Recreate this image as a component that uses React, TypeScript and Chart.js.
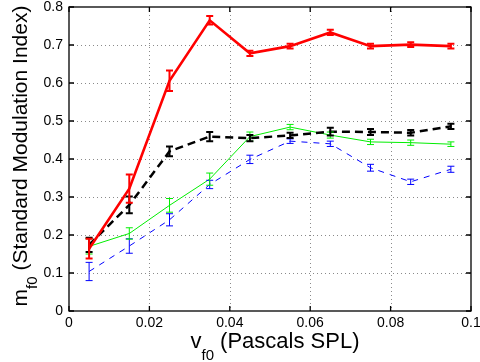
import React, { useEffect, useRef } from "react";
import { Chart, registerables } from "chart.js";

Chart.register(...registerables);

const xValues = [0.005, 0.015, 0.025, 0.035, 0.045, 0.055, 0.065, 0.075, 0.085, 0.095];

const redValues = [0.164, 0.322, 0.606, 0.765, 0.678, 0.697, 0.733, 0.697, 0.701, 0.697];
const redErrors = [0.026, 0.037, 0.027, 0.011, 0.007, 0.006, 0.007, 0.006, 0.006, 0.006];

const blackValues = [0.174, 0.279, 0.42, 0.459, 0.455, 0.462, 0.472, 0.471, 0.469, 0.486];
const blackErrors = [0.019, 0.022, 0.013, 0.012, 0.008, 0.007, 0.01, 0.008, 0.007, 0.007];

const greenValues = [0.17, 0.204, 0.278, 0.347, 0.459, 0.484, 0.463, 0.445, 0.443, 0.439];
const greenErrors = [0.02, 0.015, 0.018, 0.016, 0.012, 0.007, 0.008, 0.007, 0.007, 0.006];

const blueValues = [0.104, 0.171, 0.24, 0.333, 0.399, 0.447, 0.44, 0.377, 0.34, 0.373];
const blueErrors = [0.024, 0.019, 0.016, 0.011, 0.011, 0.006, 0.007, 0.009, 0.007, 0.008];

const xTicks = [0, 0.02, 0.04, 0.06, 0.08, 0.1];
const yTicks = [0, 0.1, 0.2, 0.3, 0.4, 0.5, 0.6, 0.7, 0.8];

const xTitleMain = "v";
const xTitleSub = "f0";
const xTitleRest = " (Pascals SPL)";
const yTitleMain = "m";
const yTitleSub = "f0";
const yTitleRest = " (Standard Modulation Index)";

const FONT = '"Liberation Sans", Arial, Helvetica, sans-serif';

const gridPlugin = {
  id: "dottedGrid",
  beforeDatasetsDraw(chart: any) {
    const ctx = chart.ctx;
    const { left, right, top, bottom } = chart.chartArea;
    const xs = chart.scales.x;
    const ys = chart.scales.y;
    ctx.save();
    ctx.strokeStyle = "#8a8a8a";
    ctx.lineWidth = 1;
    ctx.setLineDash([1, 3]);
    ctx.beginPath();
    xTicks.forEach((v) => {
      const x = Math.round(xs.getPixelForValue(v)) + 0.5;
      if (x - left < 2 || right - x < 2) return;
      ctx.moveTo(x, top);
      ctx.lineTo(x, bottom);
    });
    yTicks.forEach((v) => {
      const y = Math.round(ys.getPixelForValue(v)) + 0.5;
      if (y - top < 2 || bottom - y < 2) return;
      ctx.moveTo(left, y);
      ctx.lineTo(right, y);
    });
    ctx.stroke();
    ctx.restore();
  },
};

const errorBarPlugin = {
  id: "errorBars",
  afterDatasetsDraw(chart: any) {
    const ctx = chart.ctx;
    const xs = chart.scales.x;
    const ys = chart.scales.y;
    const sets = chart.data.datasets.slice();
    sets.sort((a: any, b: any) => (b.order ?? 0) - (a.order ?? 0));
    sets.forEach((d: any) => {
      const errs: number[] = d.errors || [];
      ctx.save();
      ctx.strokeStyle = d.borderColor;
      ctx.lineWidth = d.errorWidth || 1;
      ctx.setLineDash([]);
      const cap = 3.5;
      d.data.forEach((p: any, j: number) => {
        const x = xs.getPixelForValue(p.x);
        const y1 = ys.getPixelForValue(p.y + errs[j]);
        const y2 = ys.getPixelForValue(p.y - errs[j]);
        ctx.beginPath();
        ctx.moveTo(x, y1);
        ctx.lineTo(x, y2);
        ctx.moveTo(x - cap, y1);
        ctx.lineTo(x + cap, y1);
        ctx.moveTo(x - cap, y2);
        ctx.lineTo(x + cap, y2);
        ctx.stroke();
      });
      ctx.restore();
    });
  },
};

const framePlugin = {
  id: "frame",
  afterDraw(chart: any) {
    const ctx = chart.ctx;
    const { left, right, top, bottom } = chart.chartArea;
    const xs = chart.scales.x;
    const ys = chart.scales.y;
    ctx.save();
    ctx.strokeStyle = "#000";
    ctx.lineWidth = 1.3;
    ctx.setLineDash([]);
    ctx.strokeRect(left, top, right - left, bottom - top);
    const tl = 5;
    ctx.beginPath();
    xTicks.forEach((v) => {
      const x = xs.getPixelForValue(v);
      ctx.moveTo(x, bottom);
      ctx.lineTo(x, bottom - tl);
      ctx.moveTo(x, top);
      ctx.lineTo(x, top + tl);
    });
    yTicks.forEach((v) => {
      const y = ys.getPixelForValue(v);
      ctx.moveTo(left, y);
      ctx.lineTo(left + tl, y);
      ctx.moveTo(right, y);
      ctx.lineTo(right - tl, y);
    });
    ctx.stroke();

    ctx.fillStyle = "#000";
    ctx.textBaseline = "alphabetic";
    ctx.textAlign = "left";
    const xMainFont = `22px ${FONT}`;
    const xSubFont = `15px ${FONT}`;
    ctx.font = xMainFont;
    const w1 = ctx.measureText(xTitleMain).width;
    const w3 = ctx.measureText(xTitleRest).width;
    ctx.font = xSubFont;
    const w2 = ctx.measureText(xTitleSub).width;
    const xTotal = w1 + w2 + w3;
    const xCenter = 275;
    const sx = xCenter - xTotal / 2;
    const xBase = 348;
    ctx.font = xMainFont;
    ctx.fillText(xTitleMain, sx, xBase);
    ctx.font = xSubFont;
    ctx.fillText(xTitleSub, sx + w1, xBase + 12);
    ctx.font = xMainFont;
    ctx.fillText(xTitleRest, sx + w1 + w2, xBase);

    const yMainFont = `21px ${FONT}`;
    const ySubFont = `15px ${FONT}`;
    ctx.font = yMainFont;
    const v1 = ctx.measureText(yTitleMain).width;
    const v3 = ctx.measureText(yTitleRest).width;
    ctx.font = ySubFont;
    const v2 = ctx.measureText(yTitleSub).width;
    const yTotal = v1 + v2 + v3;
    const yCenter = 156;
    ctx.translate(27, yCenter + yTotal / 2);
    ctx.rotate(-Math.PI / 2);
    ctx.font = yMainFont;
    ctx.fillText(yTitleMain, 0, 0);
    ctx.font = ySubFont;
    ctx.fillText(yTitleSub, v1, 10);
    ctx.font = yMainFont;
    ctx.fillText(yTitleRest, v1 + v2, 0);
    ctx.restore();
  },
};

const toPoints = (vals: number[]) => vals.map((y, i) => ({ x: xValues[i], y }));

export default function App() {
  const canvasRef = useRef<HTMLCanvasElement | null>(null);

  useEffect(() => {
    document.body.style.margin = "0";
    const canvas = canvasRef.current;
    if (!canvas) return;
    Chart.defaults.font.family = FONT;
    const chart = new Chart(canvas, {
      type: "scatter",
      data: {
        datasets: [
          {
            label: "red",
            data: toPoints(redValues),
            errors: redErrors,
            errorWidth: 2,
            showLine: true,
            borderColor: "#ff0000",
            backgroundColor: "#ff0000",
            borderWidth: 2.6,
            pointRadius: 0,
            order: 0,
          },
          {
            label: "black",
            data: toPoints(blackValues),
            errors: blackErrors,
            errorWidth: 2,
            showLine: true,
            borderColor: "#000000",
            backgroundColor: "#000000",
            borderWidth: 2.5,
            borderDash: [8, 5],
            pointRadius: 0,
            order: 1,
          },
          {
            label: "green",
            data: toPoints(greenValues),
            errors: greenErrors,
            errorWidth: 1,
            showLine: true,
            borderColor: "#00ee00",
            backgroundColor: "#00ee00",
            borderWidth: 1,
            pointRadius: 0,
            order: 2,
          },
          {
            label: "blue",
            data: toPoints(blueValues),
            errors: blueErrors,
            errorWidth: 1,
            showLine: true,
            borderColor: "#0000ff",
            backgroundColor: "#0000ff",
            borderWidth: 1,
            borderDash: [6, 6],
            pointRadius: 0,
            order: 3,
          },
        ] as any,
      },
      options: {
        animation: false,
        responsive: false,
        maintainAspectRatio: false,
        layout: { padding: { left: 0, right: 9, top: 7, bottom: 0 } },
        plugins: {
          legend: { display: false },
          tooltip: { enabled: false },
        },
        scales: {
          x: {
            type: "linear",
            min: 0,
            max: 0.1,
            afterBuildTicks: (scale: any) => {
              scale.ticks = xTicks.map((v) => ({ value: v }));
            },
            afterFit: (scale: any) => {
              scale.height = 51;
              scale.paddingLeft = 0;
              scale.paddingRight = 0;
            },
            ticks: {
              color: "#000",
              font: { size: 14 },
              padding: 4,
              maxRotation: 0,
              autoSkip: false,
              callback: (v: any) => String(parseFloat(Number(v).toFixed(2))),
            },
            grid: { display: false, drawTicks: false },
            border: { display: false },
          },
          y: {
            type: "linear",
            min: 0,
            max: 0.8,
            afterBuildTicks: (scale: any) => {
              scale.ticks = yTicks.map((v) => ({ value: v }));
            },
            afterFit: (scale: any) => {
              scale.width = 69;
              scale.paddingTop = 0;
              scale.paddingBottom = 0;
            },
            ticks: {
              color: "#000",
              font: { size: 14 },
              padding: 6,
              autoSkip: false,
              callback: (v: any) => String(parseFloat(Number(v).toFixed(1))),
            },
            grid: { display: false, drawTicks: false },
            border: { display: false },
          },
        },
      } as any,
      plugins: [gridPlugin, errorBarPlugin, framePlugin],
    });
    return () => chart.destroy();
  }, []);

  return (
    <div style={{ width: 480, height: 362 }}>
      <canvas ref={canvasRef} width={480} height={362} style={{ display: "block" }} />
    </div>
  );
}
